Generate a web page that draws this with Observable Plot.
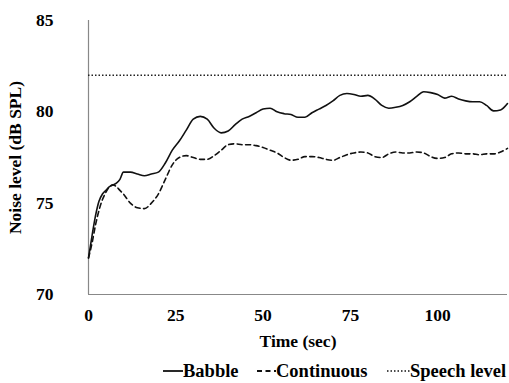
<!DOCTYPE html>
<html>
<head>
<meta charset="utf-8">
<script src="https://cdn.jsdelivr.net/npm/d3@7"></script>
<script src="https://cdn.jsdelivr.net/npm/@observablehq/plot@0.6"></script>
<style>
  html, body { margin: 0; padding: 0; background: #fff; }
  body { width: 509px; height: 383px; overflow: hidden; font-family: "Liberation Serif", "Times New Roman", serif; }
  #legend { position: relative; height: 29px; font-weight: bold; font-size: 18.5px; line-height: 22px; color: #000; }
  #legend .item { position: absolute; top: 6px; height: 22px; display: flex; align-items: center; white-space: nowrap; }
  #legend svg { display: block; }
</style>
</head>
<body>
<div id="chart"></div>
<div id="legend"></div>
<script>
const time = [0,1,2,3,4,5,6,7,8,9,10,12,14,16,18,20,22,24,26,28,30,32,34,36,38,40,42,44,46,48,50,52,54,56,58,60,62,64,66,68,70,72,74,76,78,80,82,84,86,88,90,92,94,96,98,100,102,104,106,108,110,112,114,116,118,120];
const babble = [72.0,73.2,74.3,75.1,75.5,75.7,75.9,76.0,76.1,76.3,76.7,76.7,76.6,76.5,76.6,76.7,77.2,77.9,78.4,79.0,79.6,79.75,79.6,79.1,78.85,78.95,79.3,79.6,79.75,79.95,80.15,80.2,80.0,79.9,79.85,79.7,79.7,79.95,80.15,80.35,80.6,80.9,81.0,80.95,80.85,80.9,80.7,80.35,80.2,80.25,80.35,80.55,80.85,81.1,81.05,80.95,80.75,80.85,80.7,80.6,80.55,80.55,80.35,80.05,80.1,80.45];
const continuous = [72.0,72.8,73.8,74.6,75.2,75.6,75.9,76.0,75.9,75.7,75.5,75.0,74.75,74.7,75.0,75.5,76.3,77.1,77.5,77.6,77.5,77.4,77.4,77.6,77.9,78.2,78.25,78.2,78.2,78.15,78.05,77.9,77.75,77.5,77.35,77.4,77.55,77.55,77.5,77.4,77.35,77.5,77.65,77.75,77.8,77.75,77.55,77.5,77.7,77.8,77.75,77.75,77.8,77.75,77.55,77.45,77.5,77.7,77.75,77.7,77.7,77.65,77.7,77.7,77.8,78.0];
const speechLevel = 82;
const yTicks = [70, 75, 80, 85];
const xTicks = [0, 25, 50, 75, 100];
const seriesNames = ["Babble", "Continuous", "Speech level"];

const babbleData = time.map((t, i) => ({t, v: babble[i]}));
const contData = time.map((t, i) => ({t, v: continuous[i]}));

const chart = Plot.plot({
  width: 509,
  height: 354,
  marginLeft: 88,
  marginRight: 2,
  marginTop: 20,
  marginBottom: 60,
  style: {fontFamily: '"Liberation Serif", "Times New Roman", serif', fontSize: "17.5px", fontWeight: "bold", color: "#000", background: "#fff"},
  x: {domain: [0, 120], ticks: xTicks, tickSize: 0, tickPadding: 14, label: "Time (sec)", labelArrow: "none", labelAnchor: "center", labelOffset: 52},
  y: {domain: [70, 85], ticks: yTicks, tickSize: 0, tickPadding: 35, label: "Noise level (dB SPL)", labelArrow: "none", labelAnchor: "center", labelOffset: 80},
  marks: [
    Plot.ruleX([0], {y1: 70, y2: 85, stroke: "#888", strokeWidth: 1.2}),
    Plot.ruleY([70], {x1: 0, x2: 120, stroke: "#888", strokeWidth: 1.2}),
    Plot.ruleY([speechLevel], {x1: 0, x2: 120, stroke: "#222", strokeWidth: 1.5, strokeDasharray: "1.5,2"}),
    Plot.line(contData, {x: "t", y: "v", stroke: "#111", strokeWidth: 1.6, strokeDasharray: "5,3.5", curve: "monotone-x"}),
    Plot.line(babbleData, {x: "t", y: "v", stroke: "#111", strokeWidth: 1.6, curve: "monotone-x"})
  ]
});
document.getElementById("chart").appendChild(chart);

const legend = document.getElementById("legend");
const styles = [
  {x: 163, w: 20, dash: null, sw: 1.8},
  {x: 257, w: 19, dash: "5,3.5", sw: 1.8},
  {x: 387, w: 23, dash: "1.5,2", sw: 1.3}
];
seriesNames.forEach((name, i) => {
  const s = styles[i];
  const item = document.createElement("div");
  item.className = "item";
  item.style.left = s.x + "px";
  const sw = document.createElementNS("http://www.w3.org/2000/svg", "svg");
  sw.setAttribute("width", s.w);
  sw.setAttribute("height", 10);
  const ln = document.createElementNS("http://www.w3.org/2000/svg", "line");
  ln.setAttribute("x1", 0); ln.setAttribute("x2", s.w);
  ln.setAttribute("y1", 5); ln.setAttribute("y2", 5);
  ln.setAttribute("stroke", "#111");
  ln.setAttribute("stroke-width", s.sw);
  if (s.dash) ln.setAttribute("stroke-dasharray", s.dash);
  sw.appendChild(ln);
  const tx = document.createElement("span");
  tx.textContent = name;
  item.appendChild(sw);
  item.appendChild(tx);
  legend.appendChild(item);
});
</script>
</body>
</html>
